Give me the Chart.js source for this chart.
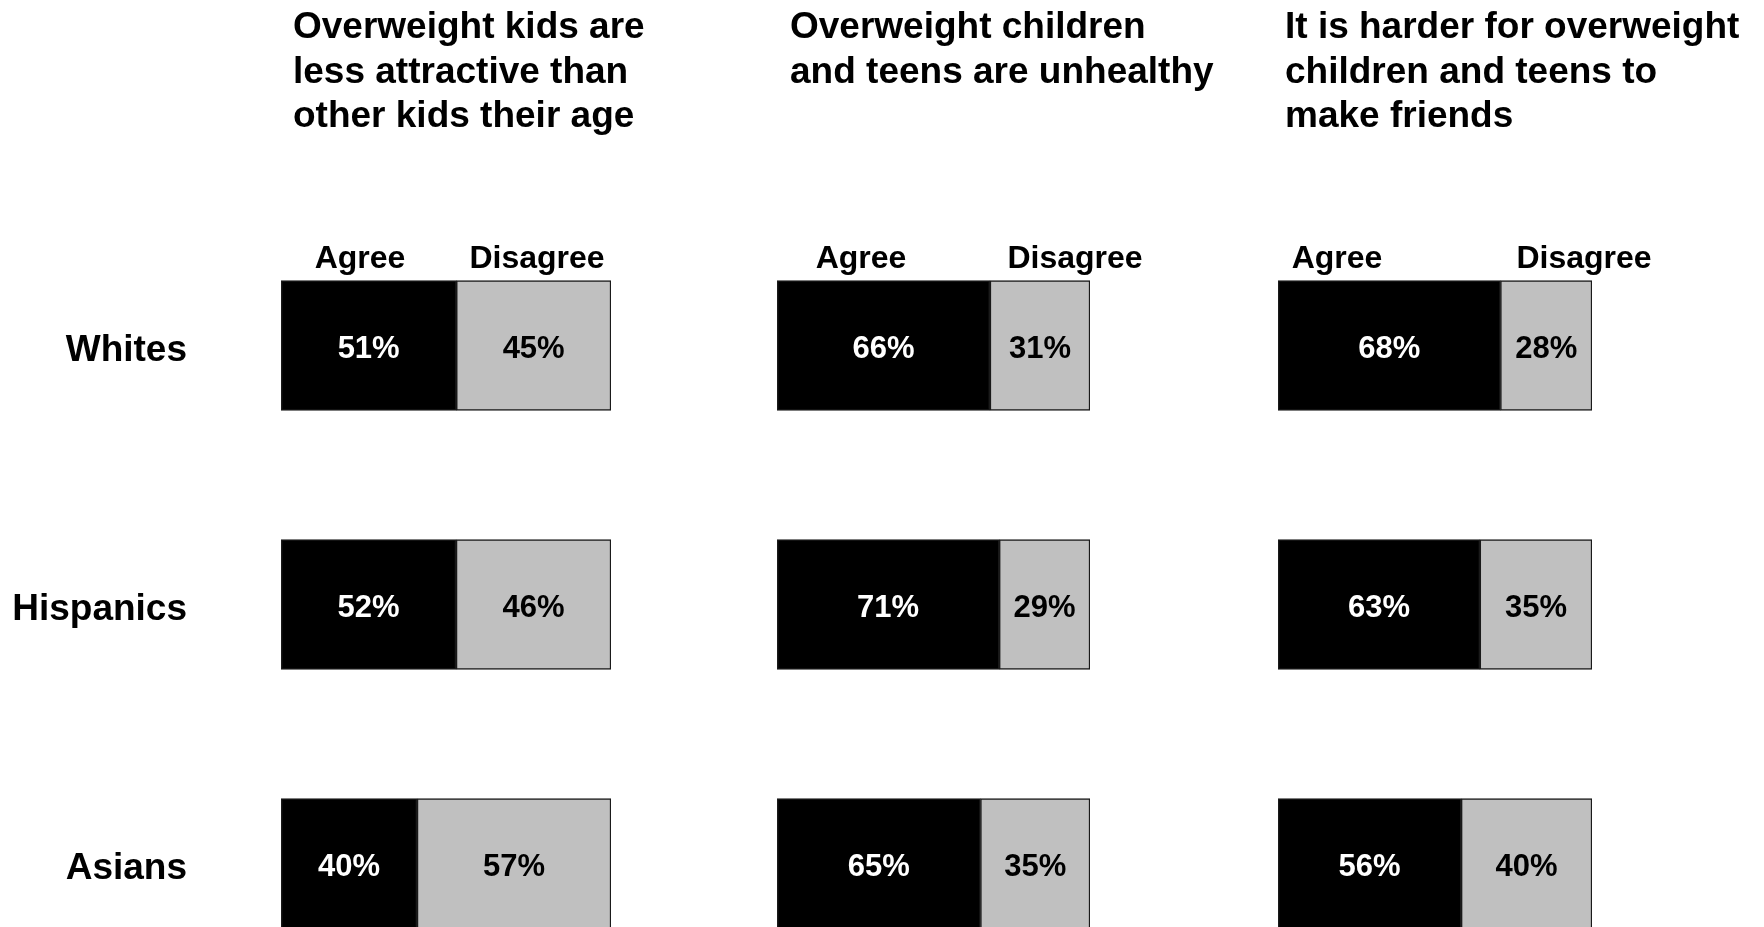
<!DOCTYPE html>
<html>
<head>
<meta charset="utf-8">
<title>Attitudes toward overweight kids</title>
<script src="https://cdn.jsdelivr.net/npm/chart.js@4"></script>
<style>
    html, body {
        margin: 0;
        padding: 0;
        background: #fff;
        overflow: hidden;
    }
    #root {
        position: relative;
        width: 1764px;
        height: 927px;
        overflow: hidden;
    }
    #root canvas {
        position: absolute;
        top: 0;
    }
</style>
</head>
<body>
<div id="root">
    <canvas id="panelAttractive" width="700" height="1000" style="left:0px"></canvas>
    <canvas id="panelUnhealthy" width="520" height="1000" style="left:700px"></canvas>
    <canvas id="panelFriends" width="544" height="1000" style="left:1220px"></canvas>
</div>
<script>
const groups = ['Whites', 'Hispanics', 'Asians'];
const answers = ['Agree', 'Disagree'];

const titleAttractive = ['Overweight kids are', 'less attractive than', 'other kids their age'];
const titleUnhealthy = ['Overweight children', 'and teens are unhealthy'];
const titleFriends = ['It is harder for overweight', 'children and teens to', 'make friends'];

const agreeAttractive = [51, 52, 40];
const disagreeAttractive = [45, 46, 57];
const agreeUnhealthy = [66, 71, 65];
const disagreeUnhealthy = [31, 29, 35];
const agreeFriends = [68, 63, 56];
const disagreeFriends = [28, 35, 40];

const FONT = '"Liberation Sans", Arial, Helvetica, sans-serif';
const COLORS = ['#000000', '#c0c0c0'];
const LABEL_COLORS = ['#ffffff', '#000000'];

// each bar is filled to the full width, so the shares are taken of agree + disagree
function share(part, other) {
    return part.map((value, i) => value / (value + other[i]) * 100);
}

// percent labels inside the segments, titles and the Agree / Disagree heads
const panelText = {
    id: 'panelText',
    afterDatasetsDraw: function(chart, args, opts) {
        const ctx = chart.ctx;
        ctx.save();
        ctx.textAlign = 'center';
        ctx.textBaseline = 'middle';
        ctx.font = 'bold 31px ' + FONT;
        chart.data.datasets.forEach((dataset, d) => {
            const meta = chart.getDatasetMeta(d);
            ctx.fillStyle = LABEL_COLORS[d];
            meta.data.forEach((bar, i) => {
                const x = (bar.x + bar.base) / 2;
                ctx.fillText(dataset.values[i] + '%', x, bar.y + 4);
            });
        });

        ctx.textBaseline = 'alphabetic';
        ctx.fillStyle = '#000';
        ctx.font = 'bold 32px ' + FONT;
        opts.heads.forEach((x, i) => {
            ctx.fillText(answers[i], x, 268);
        });

        ctx.textAlign = 'left';
        ctx.font = 'bold 37px ' + FONT;
        opts.title.forEach((line, i) => {
            ctx.fillText(line, opts.titleX, 38 + i * 44.5);
        });
        ctx.restore();
    },
};

function drawPanel(id, title, agree, disagree, layout) {
    const ctx = document.getElementById(id);
    const showGroups = !!layout.axisWidth;
    return new Chart(ctx, {
        type: 'bar',
        data: {
            labels: groups,
            datasets: [
                {
                    label: answers[0],
                    data: share(agree, disagree),
                    values: agree,
                    backgroundColor: COLORS[0],
                },
                {
                    label: answers[1],
                    data: share(disagree, agree),
                    values: disagree,
                    backgroundColor: COLORS[1],
                },
            ],
        },
        options: {
            indexAxis: 'y',
            responsive: false,
            animation: false,
            devicePixelRatio: 1,
            layout: {
                padding: {
                    top: 216,
                    bottom: 7,
                    left: layout.left,
                    right: layout.right,
                },
            },
            datasets: {
                bar: {
                    barThickness: 130,
                    borderColor: '#1a1a1a',
                    borderWidth: 1.5,
                    borderSkipped: false,
                },
            },
            plugins: {
                legend: { display: false },
                tooltip: { enabled: false },
                title: { display: false },
                panelText: {
                    title: title,
                    titleX: layout.titleX,
                    heads: layout.heads,
                },
            },
            scales: {
                x: {
                    display: false,
                    stacked: true,
                    min: 0,
                    max: 100,
                },
                y: {
                    display: showGroups,
                    stacked: true,
                    grid: { display: false, drawTicks: false },
                    border: { display: false },
                    afterFit: function(scale) {
                        if (!showGroups) return;
                        scale.width = layout.axisWidth;
                        // the big tick padding must not eat into the plot height
                        scale.paddingTop = 0;
                        scale.paddingBottom = 0;
                    },
                    ticks: {
                        padding: 94,
                        labelOffset: 5,
                        color: '#000',
                        font: {
                            family: FONT,
                            size: 37,
                            weight: 'bold',
                        },
                    },
                },
            },
        },
        plugins: [panelText],
    });
}

drawPanel('panelAttractive', titleAttractive, agreeAttractive, disagreeAttractive, {
    axisWidth: 281, left: 0, right: 89, titleX: 293, heads: [360, 537],
});
drawPanel('panelUnhealthy', titleUnhealthy, agreeUnhealthy, disagreeUnhealthy, {
    left: 77, right: 130, titleX: 90, heads: [161, 375],
});
drawPanel('panelFriends', titleFriends, agreeFriends, disagreeFriends, {
    left: 58, right: 172, titleX: 65, heads: [117, 364],
});
</script>
</body>
</html>
